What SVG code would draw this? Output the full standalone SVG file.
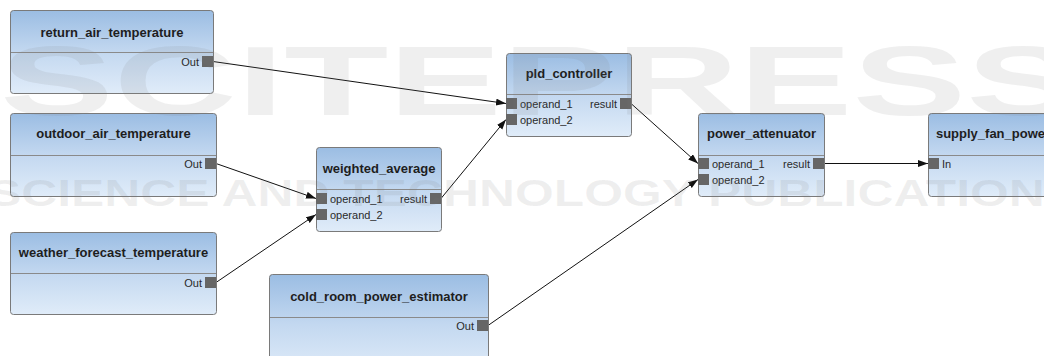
<svg xmlns="http://www.w3.org/2000/svg" width="1044" height="356" viewBox="0 0 1044 356">
  <style>
    .box { fill: url(#nodeFill); stroke: #7a7a7a; stroke-width: 1; }
    .sep { stroke: #8a8a8a; stroke-width: 1; }
    .title { font-family: "Liberation Sans", Arial, sans-serif; font-size: 13px; font-weight: bold; fill: #1e1e1e; text-anchor: middle; }
    .plabel { font-family: "Liberation Sans", Arial, sans-serif; font-size: 11px; fill: #2a2a2a; }
    .right { text-anchor: end; }
    .port { fill: #666666; }
    .edge { stroke: #111111; stroke-width: 1; fill: none; marker-end: url(#arrow); }
    .wm { font-family: "Liberation Sans", Arial, sans-serif; font-weight: bold; fill: #7a7a7a; fill-opacity: 0.12; }
  </style>
  <defs>
    <linearGradient id="nodeFill" x1="0" y1="0" x2="0" y2="1">
      <stop offset="0" stop-color="#9bbde3"/>
      <stop offset="0.5" stop-color="#c3d8f0"/>
      <stop offset="1" stop-color="#e0ecf9"/>
    </linearGradient>
    <marker id="arrow" markerUnits="userSpaceOnUse" markerWidth="11" markerHeight="8" refX="10" refY="3.5" orient="auto">
      <path d="M0,0 L10,3.5 L0,7 z" fill="#111111"/>
    </marker>
  </defs>

  <rect width="1044" height="356" fill="#ffffff"/>

  <!-- connectors -->
  <g id="connectors">
    <line class="edge" x1="213" y1="61.5" x2="506" y2="103.5"/>
    <line class="edge" x1="216" y1="163.5" x2="316" y2="198.5"/>
    <line class="edge" x1="216" y1="282.5" x2="316" y2="214.5"/>
    <line class="edge" x1="441" y1="198.5" x2="506" y2="119.5"/>
    <line class="edge" x1="631" y1="103.5" x2="698" y2="163.5"/>
    <line class="edge" x1="488" y1="325.5" x2="698" y2="179.5"/>
    <line class="edge" x1="824" y1="163.5" x2="928" y2="163.5"/>
  </g>

  <g id="return_air_temperature">
    <rect class="box" x="10.5" y="10.5" width="203" height="83" rx="3"/>
    <line class="sep" x1="11" y1="52.5" x2="213" y2="52.5"/>
    <text class="title" x="112" y="37">return_air_temperature</text>
    <rect class="port" x="202" y="56" width="11" height="11"/>
    <text class="plabel right" x="199" y="66">Out</text>
  </g>

  <g id="outdoor_air_temperature">
    <rect class="box" x="10.5" y="113.5" width="206" height="83" rx="3"/>
    <line class="sep" x1="11" y1="155.5" x2="216" y2="155.5"/>
    <text class="title" x="113.5" y="138">outdoor_air_temperature</text>
    <rect class="port" x="205" y="158" width="11" height="11"/>
    <text class="plabel right" x="202" y="168">Out</text>
  </g>

  <g id="weather_forecast_temperature">
    <rect class="box" x="10.5" y="232.5" width="206" height="82" rx="3"/>
    <line class="sep" x1="11" y1="273.5" x2="216" y2="273.5"/>
    <text class="title" x="113.5" y="257">weather_forecast_temperature</text>
    <rect class="port" x="205" y="277" width="11" height="11"/>
    <text class="plabel right" x="202" y="287">Out</text>
  </g>

  <g id="weighted_average">
    <rect class="box" x="316.5" y="147.5" width="125" height="84" rx="3"/>
    <line class="sep" x1="317" y1="189.5" x2="441" y2="189.5"/>
    <text class="title" x="379" y="173">weighted_average</text>
    <rect class="port" x="316" y="193" width="11" height="11"/>
    <rect class="port" x="316" y="209" width="11" height="11"/>
    <rect class="port" x="430" y="193" width="11" height="11"/>
    <text class="plabel" x="330" y="203">operand_1</text>
    <text class="plabel" x="330" y="219">operand_2</text>
    <text class="plabel right" x="427" y="203">result</text>
  </g>

  <g id="cold_room_power_estimator">
    <rect class="box" x="269.5" y="274.5" width="219" height="100" rx="3"/>
    <line class="sep" x1="270" y1="317.5" x2="488" y2="317.5"/>
    <text class="title" x="379" y="301">cold_room_power_estimator</text>
    <rect class="port" x="477" y="320" width="11" height="11"/>
    <text class="plabel right" x="474" y="330">Out</text>
  </g>

  <g id="pld_controller">
    <rect class="box" x="506.5" y="53.5" width="125" height="83" rx="3"/>
    <line class="sep" x1="507" y1="94.5" x2="631" y2="94.5"/>
    <text class="title" x="569" y="78">pld_controller</text>
    <rect class="port" x="506" y="98" width="11" height="11"/>
    <rect class="port" x="506" y="114" width="11" height="11"/>
    <rect class="port" x="620" y="98" width="11" height="11"/>
    <text class="plabel" x="520" y="108">operand_1</text>
    <text class="plabel" x="520" y="124">operand_2</text>
    <text class="plabel right" x="617" y="108">result</text>
  </g>

  <g id="power_attenuator">
    <rect class="box" x="698.5" y="113.5" width="126" height="83" rx="3"/>
    <line class="sep" x1="699" y1="155.5" x2="824" y2="155.5"/>
    <text class="title" x="761.5" y="138">power_attenuator</text>
    <rect class="port" x="698" y="158" width="11" height="11"/>
    <rect class="port" x="698" y="174" width="11" height="11"/>
    <rect class="port" x="813" y="158" width="11" height="11"/>
    <text class="plabel" x="712" y="168">operand_1</text>
    <text class="plabel" x="712" y="184">operand_2</text>
    <text class="plabel right" x="810" y="168">result</text>
  </g>

  <g id="supply_fan_power">
    <rect class="box" x="928.5" y="113.5" width="126" height="83" rx="3"/>
    <line class="sep" x1="929" y1="155.5" x2="1054" y2="155.5"/>
    <text class="title" x="993" y="138">supply_fan_power</text>
    <rect class="port" x="928" y="158" width="11" height="11"/>
    <text class="plabel" x="942" y="168">In</text>
  </g>

  <!-- publisher watermark -->
  <g id="watermark">
    <text class="wm" x="0" y="115" font-size="98" textLength="1080" lengthAdjust="spacingAndGlyphs">SCITEPRESS</text>
    <text class="wm" x="-12" y="206" font-size="37" textLength="1090" lengthAdjust="spacingAndGlyphs">SCIENCE AND TECHNOLOGY PUBLICATIONS</text>
  </g>
</svg>
